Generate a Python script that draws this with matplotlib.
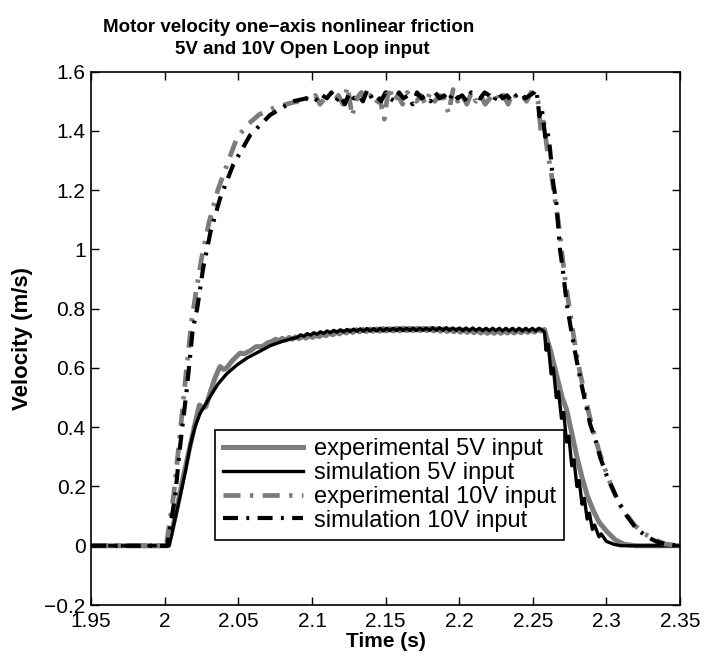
import numpy as np
import matplotlib
matplotlib.use("Agg")
import matplotlib.pyplot as plt

# ---- data ----
# simulation 5V: rise, rippled plateau (even samples), fall
sim5_rise_t = [1.95, 2.003, 2.0065, 2.0104, 2.0140, 2.0172, 2.0205, 2.024, 2.031, 2.036, 2.042,
               2.049, 2.056, 2.064, 2.0716, 2.080, 2.087]
sim5_rise_v = [0.0, 0.0, 0.08, 0.166, 0.25, 0.336, 0.40, 0.447, 0.505, 0.545, 0.58,
               0.61, 0.634, 0.655, 0.675, 0.690, 0.700]
sim5_plat_span = (2.090, 2.2565)
sim5_plat_v = [0.703, 0.712, 0.707, 0.716, 0.711, 0.719, 0.714, 0.722, 0.717, 0.725, 0.719, 0.727,
               0.721, 0.729, 0.722, 0.730, 0.723, 0.731, 0.724, 0.732, 0.724, 0.733, 0.725, 0.733,
               0.725, 0.734, 0.725, 0.734, 0.726, 0.734, 0.726, 0.735, 0.726, 0.735, 0.726, 0.735,
               0.726, 0.735, 0.727, 0.735, 0.727, 0.736, 0.727, 0.736, 0.727, 0.736, 0.727, 0.735,
               0.727, 0.735, 0.726, 0.735, 0.726, 0.735, 0.726, 0.734, 0.726, 0.734, 0.726, 0.734,
               0.726, 0.734, 0.725, 0.734, 0.725, 0.734, 0.725, 0.734, 0.725, 0.734, 0.725, 0.734,
               0.725, 0.734, 0.728]
sim5_fall_t = [2.2580, 2.2590, 2.2605, 2.2625, 2.2640, 2.2660, 2.2675, 2.2695, 2.2710, 2.2730,
               2.2745, 2.2765, 2.2780, 2.2800, 2.2815, 2.2835, 2.2850, 2.2870, 2.2885, 2.2905,
               2.2920, 2.2950, 2.2965, 2.3000, 2.3050, 2.3100, 2.3500]
sim5_fall_v = [0.72, 0.66, 0.68, 0.58, 0.60, 0.50, 0.52, 0.43, 0.45, 0.35,
               0.37, 0.27, 0.29, 0.20, 0.22, 0.14, 0.16, 0.09, 0.11, 0.055,
               0.07, 0.03, 0.04, 0.015, 0.005, 0.0, 0.0]

# experimental 5V
exp5_rise_t = [1.95, 2.002, 2.004, 2.008, 2.012, 2.016, 2.020, 2.0235, 2.026, 2.028, 2.031,
               2.034, 2.0375, 2.040, 2.042, 2.046, 2.051, 2.054, 2.058, 2.062, 2.066, 2.070]
exp5_rise_v = [0.0, 0.0, 0.03, 0.12, 0.22, 0.31, 0.40, 0.475, 0.465, 0.47, 0.52,
               0.565, 0.605, 0.595, 0.60, 0.625, 0.650, 0.648, 0.658, 0.672, 0.672, 0.685]
exp5_plat_span = (2.073, 2.2580)
exp5_plat_v = [0.690, 0.697, 0.692, 0.700, 0.694, 0.703, 0.697, 0.705, 0.699, 0.707, 0.701, 0.709,
               0.703, 0.711, 0.706, 0.714, 0.709, 0.718, 0.712, 0.721, 0.715, 0.724, 0.718, 0.727,
               0.720, 0.729, 0.722, 0.730, 0.723, 0.731, 0.724, 0.732, 0.724, 0.733, 0.725, 0.733,
               0.725, 0.734, 0.725, 0.734, 0.726, 0.734, 0.726, 0.734, 0.726, 0.734, 0.726, 0.734,
               0.725, 0.733, 0.724, 0.732, 0.723, 0.731, 0.722, 0.730, 0.721, 0.729, 0.720, 0.728,
               0.719, 0.727, 0.718, 0.726, 0.717, 0.725, 0.717, 0.725, 0.717, 0.725, 0.718, 0.726,
               0.718, 0.726, 0.719, 0.727, 0.720, 0.728, 0.721, 0.729, 0.725, 0.730]
exp5_fall_t = [2.2595, 2.262, 2.266, 2.270, 2.273, 2.2765, 2.280, 2.2835, 2.287, 2.291,
               2.295, 2.300, 2.306, 2.312, 2.320, 2.350]
exp5_fall_v = [0.70, 0.66, 0.58, 0.50, 0.46, 0.38, 0.30, 0.23, 0.17, 0.12,
               0.08, 0.05, 0.02, 0.005, 0.0, 0.0]

# simulation 10V
sim10_rise_t = [1.95, 2.0016, 2.007, 2.0104, 2.015, 2.019, 2.022, 2.026, 2.031, 2.0376,
                2.0464, 2.058, 2.0716, 2.087, 2.101]
sim10_rise_v = [0.0, 0.0, 0.166, 0.336, 0.53, 0.73, 0.80, 0.935, 1.058, 1.173,
                1.285, 1.386, 1.454, 1.500, 1.515]
sim10_plat_span = (2.104, 2.2510)
sim10_plat_v = [1.50, 1.52, 1.51, 1.53, 1.50, 1.52, 1.49, 1.53, 1.51, 1.52, 1.50, 1.54,
                1.51, 1.52, 1.50, 1.53, 1.51, 1.50, 1.53, 1.51, 1.52, 1.49, 1.53, 1.51,
                1.52, 1.50, 1.53, 1.51, 1.52, 1.50, 1.53, 1.51, 1.52, 1.50, 1.53, 1.52,
                1.51, 1.53, 1.52, 1.50, 1.53, 1.51, 1.52, 1.50, 1.52, 1.53, 1.51, 1.52,
                1.53]
sim10_fall_t = [2.2525, 2.2545, 2.2560, 2.2585, 2.2600, 2.2617, 2.2640, 2.2660, 2.2685, 2.2705,
                2.2730, 2.2750, 2.2785, 2.2820, 2.2855, 2.2890, 2.2925, 2.2957, 2.3000, 2.3045,
                2.3090, 2.3140, 2.3200, 2.3276, 2.3350, 2.3420, 2.3500]
sim10_fall_v = [1.54, 1.45, 1.48, 1.38, 1.40, 1.34, 1.22, 1.16, 1.00, 0.93,
                0.82, 0.76, 0.66, 0.57, 0.49, 0.41, 0.36, 0.30, 0.24, 0.19,
                0.14, 0.10, 0.06, 0.03, 0.012, 0.004, 0.0]

# experimental 10V
exp10_rise_t = [1.95, 2.001, 2.006, 2.010, 2.014, 2.018, 2.021, 2.025, 2.030, 2.036,
                2.044, 2.049, 2.056, 2.064, 2.075, 2.090]
exp10_rise_v = [0.0, 0.0, 0.17, 0.36, 0.56, 0.75, 0.85, 0.97, 1.09, 1.20,
                1.31, 1.376, 1.42, 1.455, 1.48, 1.50]
exp10_plat_span = (2.093, 2.2520)
exp10_plat_v = [1.49, 1.51, 1.50, 1.52, 1.49, 1.51, 1.53, 1.50, 1.52, 1.49, 1.55, 1.45,
                1.51, 1.53, 1.50, 1.52, 1.49, 1.51, 1.44, 1.55, 1.50, 1.52, 1.49, 1.53,
                1.51, 1.50, 1.52, 1.49, 1.53, 1.50, 1.52, 1.51, 1.46, 1.54, 1.50, 1.52,
                1.49, 1.53, 1.50, 1.52, 1.49, 1.51, 1.53, 1.50, 1.52, 1.49, 1.53, 1.51,
                1.52, 1.50, 1.53, 1.52]
exp10_fall_t = [2.2535, 2.2555, 2.2575, 2.2600, 2.2625, 2.2650, 2.2675, 2.2700, 2.2725, 2.2750,
                2.2780, 2.2810, 2.2845, 2.2880, 2.2915, 2.2950, 2.2990, 2.3035, 2.3080, 2.3130,
                2.3190, 2.3260, 2.3330, 2.3400, 2.3500]
exp10_fall_v = [1.50, 1.40, 1.43, 1.33, 1.26, 1.17, 1.09, 0.98, 0.88, 0.80,
                0.70, 0.61, 0.53, 0.45, 0.38, 0.32, 0.26, 0.20, 0.15, 0.11,
                0.07, 0.04, 0.02, 0.006, 0.0]

labels = ["experimental 5V input", "simulation 5V input",
          "experimental 10V input", "simulation 10V input"]


def build(rise_t, rise_v, span, plat_v, fall_t, fall_v):
    plat_t = np.linspace(span[0], span[1], len(plat_v))
    t = np.concatenate([rise_t, plat_t, fall_t])
    v = np.concatenate([rise_v, plat_v, fall_v])
    return t, v


exp5_t, exp5_v = build(exp5_rise_t, exp5_rise_v, exp5_plat_span, exp5_plat_v, exp5_fall_t, exp5_fall_v)
sim5_t, sim5_v = build(sim5_rise_t, sim5_rise_v, sim5_plat_span, sim5_plat_v, sim5_fall_t, sim5_fall_v)
exp10_t, exp10_v = build(exp10_rise_t, exp10_rise_v, exp10_plat_span, exp10_plat_v, exp10_fall_t, exp10_fall_v)
sim10_t, sim10_v = build(sim10_rise_t, sim10_rise_v, sim10_plat_span, sim10_plat_v, sim10_fall_t, sim10_fall_v)

plt.rcParams['font.family'] = ['Liberation Sans', 'DejaVu Sans']

fig = plt.figure(figsize=(7.18, 6.70), dpi=100)
ax = fig.add_axes([0.127, 0.097, 0.820, 0.796])

gray = '#7c7c7c'
dashdot = (0, (3.6, 2.0, 0.7, 2.0))
ax.plot(exp5_t, exp5_v, color=gray, lw=3.6, label=labels[0])
ax.plot(sim5_t, sim5_v, color='black', lw=2.4, label=labels[1])
ax.plot(exp10_t, exp10_v, color=gray, lw=3.4, linestyle=dashdot, label=labels[2])
ax.plot(sim10_t, sim10_v, color='black', lw=3.0, linestyle=dashdot, label=labels[3])

ax.set_xlim(1.95, 2.35)
ax.set_ylim(-0.2, 1.6)
ax.set_xticks([1.95, 2, 2.05, 2.1, 2.15, 2.2, 2.25, 2.3, 2.35])
ax.set_xticklabels(['1.95', '2', '2.05', '2.1', '2.15', '2.2', '2.25', '2.3', '2.35'])
ax.set_yticks([-0.2, 0, 0.2, 0.4, 0.6, 0.8, 1, 1.2, 1.4, 1.6])
ax.set_yticklabels(['\u22120.2', '0', '0.2', '0.4', '0.6', '0.8', '1', '1.2', '1.4', '1.6'])
ax.tick_params(direction='in', length=6, width=1, top=True, right=True, labelsize=15)
ax.tick_params(axis='x', pad=5)
ax.tick_params(axis='y', pad=4)
for s in ax.spines.values():
    s.set_linewidth(1.2)

ax.set_xlabel('Time (s)', fontsize=15, fontweight='bold', labelpad=1)
ax.set_ylabel('Velocity (m/s)', fontsize=16, fontweight='bold', labelpad=8)

leg = ax.legend(loc='lower left', bbox_to_anchor=(0.210, 0.122), borderaxespad=0,
                fontsize=17, handlelength=3.4, handletextpad=0.45, labelspacing=0.08,
                borderpad=0.35, fancybox=False, framealpha=1, edgecolor='black')
leg.get_frame().set_linewidth(1.2)

title_font = dict(fontsize=13.5, fontweight='bold')
fig.text(289 / 718, 1 - 27 / 670, 'Motor velocity one\u2212axis nonlinear friction',
         ha='center', va='center', **title_font)
fig.text(175 / 718, 1 - 49 / 670, '5V and 10V Open Loop input',
         ha='left', va='center', **title_font)

fig.savefig('out.png', dpi=100)
